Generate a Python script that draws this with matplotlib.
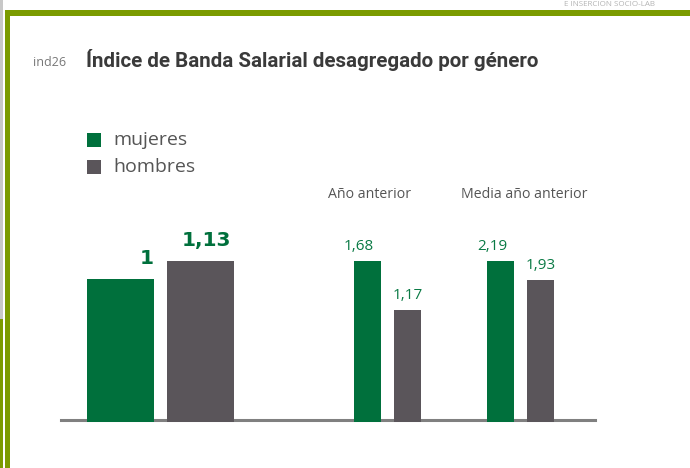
import matplotlib
matplotlib.use("Agg")
import matplotlib.pyplot as plt
from matplotlib.lines import Line2D
from matplotlib.patches import Rectangle

# === Data ===
groups = ["", "Año anterior", "Media año anterior"]
mujeres = [1.00, 1.68, 2.19]
hombres = [1.13, 1.17, 1.93]
labels_m = ["1", "1,68", "2,19"]
labels_h = ["1,13", "1,17", "1,93"]
series = ["mujeres", "hombres"]

# === Style ===
GREEN = "#00703c"
GREY = "#5a555a"
OLIVE = "#7b9b00"
W, H = 690, 468

fig = plt.figure(figsize=(W / 100, H / 100), dpi=100)


def fx(px):
    return px / W


def fy(py):
    return 1 - py / H


# frame decoration
fig.add_artist(Rectangle((fx(0), fy(319)), fx(2.5), 319 / H, transform=fig.transFigure,
                         color="#c8c8c8", lw=0))
fig.add_artist(Rectangle((fx(0), fy(H)), fx(2.5), (H - 319) / H, transform=fig.transFigure,
                         color=OLIVE, lw=0))
fig.add_artist(Rectangle((fx(5), fy(H)), fx(5), fy(10) - fy(H), transform=fig.transFigure,
                         color=OLIVE, lw=0))
fig.add_artist(Rectangle((fx(5), fy(15.5)), fx(W - 5), 5.5 / H, transform=fig.transFigure,
                         color=OLIVE, lw=0))
fig.text(fx(564), fy(5), "E INSERCIÓN SOCIO-LAB", fontsize=5.8, color="#b4b4b4",
         va="center", ha="left", family="Open Sans")

# title
fig.text(fx(33), fy(62), "ind26", fontsize=9, color="#777777", va="center",
         family="Open Sans")
fig.text(fx(86), fy(60), "Índice de Banda Salarial desagregado por género",
         fontsize=14.8, fontweight="bold", color="#3a3a3a", va="center",
         family="Roboto")

# legend
for i, (name, col) in enumerate(zip(series, [GREEN, GREY])):
    y0 = 133 + i * 26.5
    fig.add_artist(Rectangle((fx(87), fy(y0 + 14)), fx(14), 14 / H,
                             transform=fig.transFigure, color=col, lw=0))
    fig.text(fx(113), fy(y0 + 7), name, fontsize=14, color="#555555",
             va="center", family="Open Sans")

# baseline (under the bars)
fig.add_artist(Line2D([fx(61), fx(595)], [fy(419.5), fy(419.5)], transform=fig.transFigure,
                      color="#808080", lw=2.2, zorder=-1))

# group captions
caption_px = [None, 369.5, 524.5]
for k in (1, 2):
    fig.text(fx(caption_px[k]), fy(194), groups[k], ha="center", va="center",
             fontsize=10.2, color="#555555", family="Open Sans")

# one axes per group, each scaled to its own max
axes_px = [(80.5, 240.5, 0.8375), (347.5, 427.5, 0.675), (480.5, 560.5, 0.675)]
top_px, bottom_px = 261, 421.5
for k, (x0, x1, bw) in enumerate(axes_px):
    ax = fig.add_axes([fx(x0), fy(bottom_px), fx(x1 - x0), (bottom_px - top_px) / H])
    ax.patch.set_alpha(0)
    vals = [mujeres[k], hombres[k]]
    ax.bar([0, 1], vals, width=bw, color=[GREEN, GREY], zorder=3)
    ax.set_xlim(-0.5, 1.5)
    ax.set_ylim(0, max(vals))
    ax.axis("off")
    if k == 0:
        for xi, v, t, o in zip([0, 1], vals, [labels_m[k], labels_h[k]], [0, -2.3]):
            ax.annotate(t, (xi + bw / 2, v), xytext=(o, 8.2), textcoords="offset points",
                        ha="right", va="bottom", fontsize=14.5, fontweight="bold",
                        color=GREEN, family="DejaVu Sans", annotation_clip=False)
    else:
        offs = [-6, 0]
        for xi, v, t, o in zip([0, 1], vals, [labels_m[k], labels_h[k]], offs):
            ax.annotate(t, (xi, v), xytext=(o, 5), textcoords="offset points",
                        ha="center", va="bottom", fontsize=11, color="#0a7a45",
                        family="Open Sans", annotation_clip=False)

fig.savefig("out.png", dpi=100)
